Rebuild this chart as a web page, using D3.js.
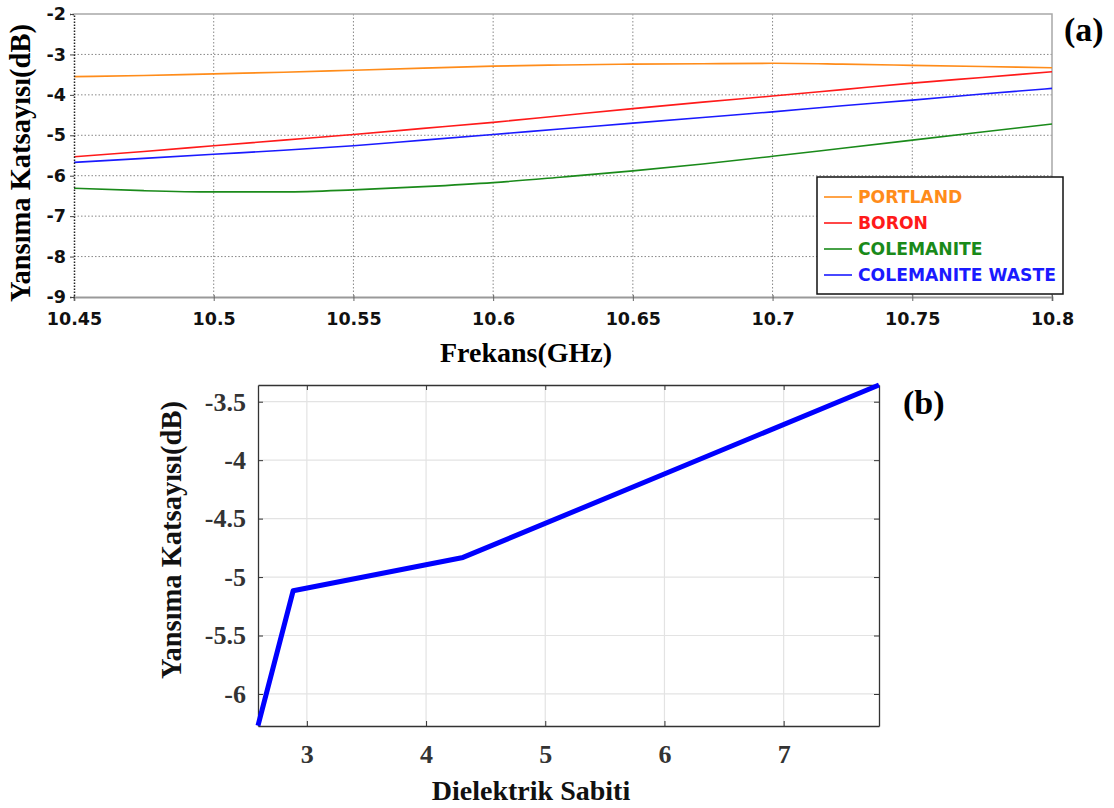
<!DOCTYPE html>
<html><head><meta charset="utf-8">
<script src="https://cdn.jsdelivr.net/npm/d3@7"></script>
<style>body{margin:0;background:#fff;} svg{display:block;}</style>
</head><body>
<svg id="c" width="1114" height="808"></svg>
<script>
// ---- Data (a) ----
const freq = [10.45,10.475,10.5,10.525,10.55,10.575,10.6,10.625,10.65,10.675,10.7,10.725,10.75,10.775,10.8];
const portland   = [-3.55,-3.52,-3.48,-3.44,-3.39,-3.34,-3.29,-3.26,-3.24,-3.23,-3.22,-3.24,-3.27,-3.30,-3.33];
const boron      = [-5.53,-5.40,-5.26,-5.12,-4.98,-4.83,-4.68,-4.51,-4.34,-4.18,-4.03,-3.87,-3.71,-3.57,-3.43];
const colemanite = [-6.31,-6.37,-6.40,-6.40,-6.35,-6.27,-6.17,-6.03,-5.88,-5.71,-5.52,-5.32,-5.12,-4.92,-4.72];
const waste      = [-5.67,-5.57,-5.47,-5.37,-5.26,-5.12,-4.98,-4.84,-4.70,-4.56,-4.42,-4.27,-4.13,-3.98,-3.84];
const seriesNames = ["PORTLAND","BORON","COLEMANITE","COLEMANITE WASTE"];
const seriesColors = ["#ff8c1a","#ff1a1a","#1a8a1a","#1a1aff"];
const xTicksA = [10.45,10.5,10.55,10.6,10.65,10.7,10.75,10.8];
const yTicksA = [-2,-3,-4,-5,-6,-7,-8,-9];
// ---- Data (b) ----
const dielectric = [2.59, 2.885, 4.31, 7.8];
const reflB      = [-6.27, -5.117, -4.832, -3.357];
const xTicksB = [3,4,5,6,7];
const yTicksB = [-3.5,-4,-4.5,-5,-5.5,-6];

const svg = d3.select("#c");
const serif = "'Liberation Serif','Times New Roman',serif";
const sans = "'DejaVu Sans',Verdana,sans-serif";
const plain = d => String(d);

// ===== Chart (a) =====
const A = {l:74, r:1052, t:14, b:297};
const xA = d3.scaleLinear().domain([10.45,10.8]).range([A.l,A.r]);
const yA = d3.scaleLinear().domain([-9,-2]).range([A.b,A.t]);
const gA = svg.append("g");
gA.selectAll(".gx").data(xTicksA.slice(1,-1)).enter().append("line")
  .attr("x1",d=>xA(d)).attr("x2",d=>xA(d)).attr("y1",A.t).attr("y2",A.b)
  .attr("stroke","#888").attr("stroke-width",1).attr("stroke-dasharray","1.5,2");
gA.selectAll(".gy").data(yTicksA.slice(1,-1)).enter().append("line")
  .attr("x1",A.l).attr("x2",A.r).attr("y1",d=>yA(d)).attr("y2",d=>yA(d))
  .attr("stroke","#888").attr("stroke-width",1).attr("stroke-dasharray","1.5,2");
gA.append("path").attr("d",`M${A.l},${A.t}H${A.r}V${A.b}`).attr("fill","none").attr("stroke","#a8a8a8").attr("stroke-width",1.5);
const dataA = [portland,boron,colemanite,waste];
const lineA = d3.line().x((d,i)=>xA(freq[i])).y(d=>yA(d)).curve(d3.curveMonotoneX);
dataA.forEach((s,k)=>{
  gA.append("path").datum(s).attr("d",lineA).attr("fill","none")
    .attr("stroke",seriesColors[k]).attr("stroke-width",1.6);
});
const axA = d3.axisBottom(xA).tickValues(xTicksA).tickSize(4).tickFormat(plain);
const gxA = gA.append("g").attr("transform",`translate(0,${A.b})`).call(axA);
gxA.select(".domain").attr("stroke","#999").attr("stroke-width",2);
gxA.selectAll(".tick line").attr("stroke","#666").attr("y1",-2);
gxA.selectAll("text").attr("font-family",sans).attr("font-weight","bold").attr("font-size",17.5).attr("fill","#111").attr("dy","0").attr("y",28);
const ayA = d3.axisLeft(yA).tickValues(yTicksA).tickSize(4).tickFormat(plain);
const gyA = gA.append("g").attr("transform",`translate(${A.l},0)`).call(ayA);
gyA.select(".domain").attr("stroke","#222").attr("stroke-width",1.5).attr("stroke-dasharray","1.5,1.5");
gyA.selectAll(".tick line").attr("stroke","#444");
gyA.selectAll("text").attr("font-family",sans).attr("font-weight","bold").attr("font-size",17.5).attr("fill","#111").attr("x",-8);
// legend
const lg = gA.append("g");
lg.append("rect").attr("x",817).attr("y",177).attr("width",246).attr("height",117)
  .attr("fill","#fff").attr("stroke","#111").attr("stroke-width",1.5);
seriesNames.forEach((n,k)=>{
  const cy = 197 + k*26;
  lg.append("line").attr("x1",824).attr("x2",852).attr("y1",cy).attr("y2",cy).attr("stroke",seriesColors[k]).attr("stroke-width",1.6);
  lg.append("text").attr("x",858).attr("y",cy+6).text(n)
    .attr("font-family",sans).attr("font-weight","bold").attr("font-size",17.2).attr("fill",seriesColors[k]);
});
svg.append("text").attr("transform","translate(30,163) rotate(-90)").attr("text-anchor","middle")
  .attr("font-family",serif).attr("font-weight","bold").attr("font-size",28.5).attr("fill","#000").text("Yansıma Katsayısı(dB)");
svg.append("text").attr("x",526).attr("y",362).attr("text-anchor","middle")
  .attr("font-family",serif).attr("font-weight","bold").attr("font-size",28).attr("fill","#000").text("Frekans(GHz)");
svg.append("text").attr("x",1064).attr("y",41)
  .attr("font-family",serif).attr("font-weight","bold").attr("font-size",34).attr("fill","#000").text("(a)");

// ===== Chart (b) =====
const B = {l:258, r:879, t:385, b:726};
const xB = d3.scaleLinear().domain([2.59,7.8]).range([B.l,B.r]);
const yB = d3.scaleLinear().domain([-6.274,-3.357]).range([B.b,B.t]);
const gB = svg.append("g");
gB.selectAll(".gx").data(xTicksB).enter().append("line")
  .attr("x1",d=>xB(d)).attr("x2",d=>xB(d)).attr("y1",B.t).attr("y2",B.b).attr("stroke","#e3e3e3").attr("stroke-width",1.2);
gB.selectAll(".gy").data(yTicksB).enter().append("line")
  .attr("x1",B.l).attr("x2",B.r).attr("y1",d=>yB(d)).attr("y2",d=>yB(d)).attr("stroke","#e3e3e3").attr("stroke-width",1.2);
const gxB = gB.append("g").attr("transform",`translate(0,${B.b})`)
  .call(d3.axisBottom(xB).tickValues(xTicksB).tickSize(-5).tickSizeOuter(0).tickPadding(14).tickFormat(plain));
const gyB = gB.append("g").attr("transform",`translate(${B.l},0)`)
  .call(d3.axisLeft(yB).tickValues(yTicksB).tickSize(-5).tickSizeOuter(0).tickPadding(12).tickFormat(plain));
const gtB = gB.append("g").attr("transform",`translate(0,${B.t})`)
  .call(d3.axisTop(xB).tickValues(xTicksB).tickSize(-5).tickSizeOuter(0).tickFormat(""));
const grB = gB.append("g").attr("transform",`translate(${B.r},0)`)
  .call(d3.axisRight(yB).tickValues(yTicksB).tickSize(-5).tickSizeOuter(0).tickFormat(""));
[gxB,gyB,gtB,grB].forEach(g=>{
  g.select(".domain").attr("stroke","#333").attr("stroke-width",1.3);
  g.selectAll(".tick line").attr("stroke","#333");
  g.selectAll("text").attr("font-family",serif).attr("font-weight","bold").attr("font-size",26).attr("fill","#333");
});
gxB.selectAll("text").attr("dy","0.9em");
const lineB = d3.line().x((d,i)=>xB(dielectric[i])).y(d=>yB(d));
gB.append("path").datum(reflB).attr("d",lineB).attr("fill","none").attr("stroke","#0000ff").attr("stroke-width",5).attr("stroke-linejoin","round");
svg.append("text").attr("transform","translate(181,540) rotate(-90)").attr("text-anchor","middle")
  .attr("font-family",serif).attr("font-weight","bold").attr("font-size",28.5).attr("fill","#111").text("Yansıma Katsayısı(dB)");
svg.append("text").attr("x",531).attr("y",800).attr("text-anchor","middle")
  .attr("font-family",serif).attr("font-weight","bold").attr("font-size",28).attr("fill","#111").text("Dielektrik Sabiti");
svg.append("text").attr("x",903).attr("y",414)
  .attr("font-family",serif).attr("font-weight","bold").attr("font-size",34).attr("fill","#000").text("(b)");
</script>
</body></html>
